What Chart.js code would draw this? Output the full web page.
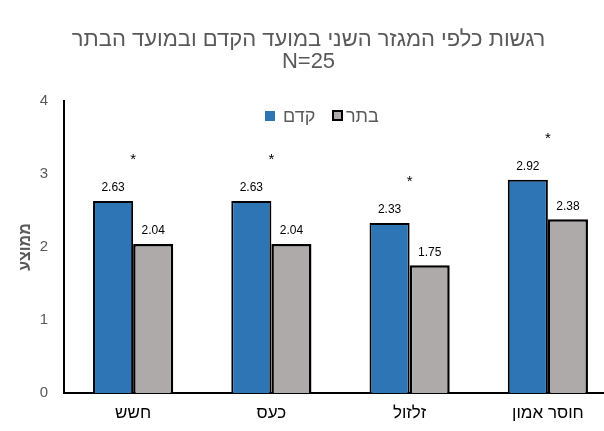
<!DOCTYPE html>
<html>
<head>
<meta charset="utf-8">
<script src="https://cdn.jsdelivr.net/npm/chart.js@4"></script>
<style>
  html, body { margin: 0; padding: 0; background: #fff; overflow: hidden; }
  #wrap { width: 620px; height: 431px; }
</style>
</head>
<body>
<div id="wrap"><canvas id="chart" width="620" height="431"></canvas></div>
<script>
const categories = ['חשש', 'כעס', 'זלזול', 'חוסר אמון']
const preValues = [2.63, 2.63, 2.33, 2.92]
const postValues = [2.04, 2.04, 1.75, 2.38]
const significant = [true, true, true, true]
const seriesNames = ['קדם', 'בתר']
const titleLines = ['רגשות כלפי המגזר השני במועד הקדם ובמועד הבתר', 'N=25']
const yAxisTitle = 'ממוצע'

const FONT = '"Liberation Sans", Arial, sans-serif'
const BLUE = '#2E75B6'
const GRAY = '#AEAAAA'
const TEXT_GRAY = '#595959'

// value labels, stars and legend drawn on top of the plot
const overlay = {
  id: 'overlay',
  afterDatasetsDraw(chart) {
    const ctx = chart.ctx
    ctx.save()
    ctx.textAlign = 'center'
    ctx.textBaseline = 'middle'
    ctx.fillStyle = '#000'
    ctx.font = '12px ' + FONT
    chart.data.datasets.forEach((ds, i) => {
      chart.getDatasetMeta(i).data.forEach((bar, j) => {
        ctx.fillText(ds.data[j].toFixed(2), bar.x, bar.y - 13)
      })
    })
    ctx.font = '15px ' + FONT
    const x = chart.scales.x
    chart.getDatasetMeta(0).data.forEach((bar, j) => {
      if (significant[j]) ctx.fillText('*', x.getPixelForValue(j), bar.y - 41)
    })

    // legend
    ctx.font = '18px ' + FONT
    ctx.textAlign = 'left'
    ctx.fillStyle = BLUE
    ctx.strokeStyle = '#000'
    ctx.fillRect(265, 111, 10, 10)
    ctx.fillStyle = TEXT_GRAY
    ctx.fillText(seriesNames[0], 283, 117)
    ctx.fillStyle = GRAY
    ctx.lineWidth = 2
    ctx.fillRect(333, 111, 9, 9)
    ctx.strokeRect(333, 111, 9, 9)
    ctx.fillStyle = TEXT_GRAY
    ctx.fillText(seriesNames[1], 346, 117)
    ctx.restore()
  }
}

new Chart(document.getElementById('chart').getContext('2d'), {
  type: 'bar',
  data: {
    labels: categories,
    datasets: [
      {
        label: seriesNames[0],
        data: preValues,
        backgroundColor: BLUE,
        borderColor: '#000',
        borderWidth: 2,
        barPercentage: 1,
        categoryPercentage: 0.58,
      },
      {
        label: seriesNames[1],
        data: postValues,
        backgroundColor: GRAY,
        borderColor: '#000',
        borderWidth: 2.5,
        barPercentage: 1,
        categoryPercentage: 0.58,
      },
    ],
  },
  options: {
    responsive: false,
    animation: false,
    layout: { padding: { left: 0, right: 3, top: 0, bottom: 0 } },
    plugins: {
      legend: { display: false },
      tooltip: { enabled: false },
      title: {
        display: true,
        text: titleLines,
        color: TEXT_GRAY,
        font: { family: FONT, size: 22, weight: 'normal', lineHeight: 1.0 },
        padding: { top: 29, bottom: 28 },
      },
    },
    scales: {
      x: {
        grid: { display: false, drawTicks: false },
        border: { color: '#000', width: 2 },
        ticks: { color: '#000', font: { family: FONT, size: 17 }, padding: 10 },
        afterFit: (s) => { s.height = 38 },
      },
      y: {
        min: 0,
        max: 4,
        grid: { display: false, drawTicks: false },
        border: { color: '#000', width: 2 },
        ticks: { stepSize: 1, color: TEXT_GRAY, font: { family: FONT, size: 15 }, padding: 16 },
        title: {
          display: true,
          text: yAxisTitle,
          color: TEXT_GRAY,
          font: { family: FONT, size: 16, weight: 'bold' },
          padding: { top: 16, bottom: 0 },
        },
        afterFit: (s) => { s.width = 64 },
      },
    },
  },
  plugins: [overlay],
})
</script>
</body>
</html>
